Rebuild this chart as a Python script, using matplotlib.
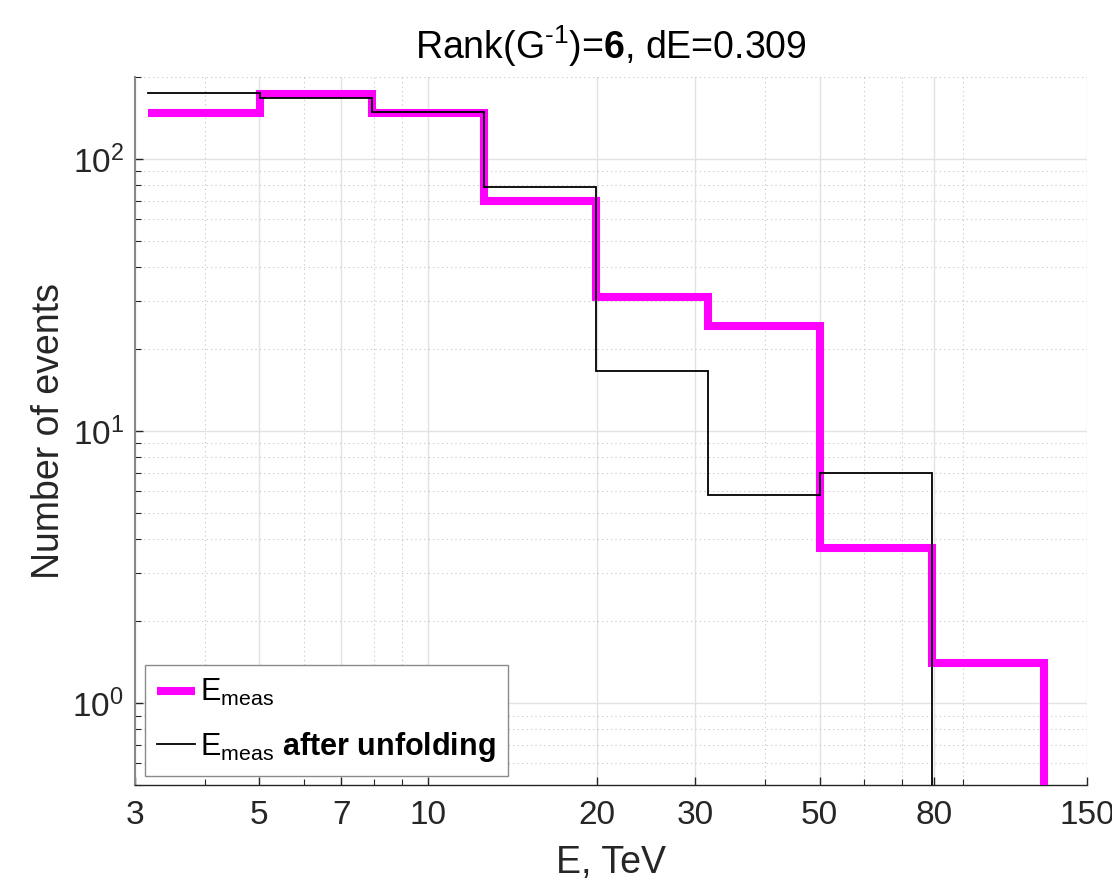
#!/usr/bin/env python3
"""Measured vs unfolded energy spectrum, log-log step plot."""

import matplotlib
matplotlib.use("Agg")
import matplotlib.pyplot as plt
import numpy as np
from matplotlib.ticker import FixedLocator, FixedFormatter, LogLocator, LogFormatterSciNotation, NullFormatter

# bin edges in TeV
edges = [3.162, 5.012, 7.943, 12.59, 19.95, 31.62, 50.12, 79.43, 125.9]
# counts per bin
meas_counts = [148, 173, 147, 70, 31, 24.4, 3.73, 1.40]
unfold_counts = [175, 168, 149, 79, 16.6, 5.8, 7.0, 0]

xticks = [3, 5, 7, 10, 20, 30, 50, 80, 150]
xtick_labels = ["3", "5", "7", "10", "20", "30", "50", "80", "150"]

plt.rcParams["font.family"] = ["Liberation Sans", "DejaVu Sans"]
plt.rcParams["mathtext.fontset"] = "custom"
plt.rcParams["mathtext.rm"] = "Liberation Sans"
plt.rcParams["mathtext.it"] = "Liberation Sans:italic"
plt.rcParams["mathtext.bf"] = "Liberation Sans:bold"
plt.rcParams["mathtext.sf"] = "Liberation Sans"


def main() -> None:
    fig = plt.figure(figsize=(11.12, 8.82), dpi=100)
    ax = fig.add_axes([0.1214, 0.110, 0.8561, 0.8027])

    ax.step(edges, np.append(meas_counts, 0), where="post", color="#ff00ff", lw=5.8,
            solid_joinstyle="miter", solid_capstyle="butt", label=r"E$_{\mathregular{meas}}$", zorder=3)
    ax.step(edges, np.append(unfold_counts, 0), where="post", color="black", lw=1.3,
            solid_joinstyle="miter",
            label=r"E$_{\mathregular{meas}}$ $\mathbf{after\ unfolding}$", zorder=4)

    ax.set_xscale("log")
    ax.set_yscale("log")
    ax.set_xlim(3, 150)
    ax.set_ylim(0.5, 200)

    ax.xaxis.set_major_locator(FixedLocator(xticks))
    ax.xaxis.set_major_formatter(FixedFormatter(xtick_labels))
    ax.xaxis.set_minor_locator(LogLocator(base=10, subs=np.arange(2, 10), numticks=20))
    ax.xaxis.set_minor_formatter(NullFormatter())
    ax.yaxis.set_major_locator(LogLocator(base=10, numticks=10))
    ax.yaxis.set_major_formatter(LogFormatterSciNotation())
    ax.yaxis.set_minor_locator(LogLocator(base=10, subs=np.arange(2, 10), numticks=20))
    ax.yaxis.set_minor_formatter(NullFormatter())

    ax.grid(True, which="major", color="#e2e2e2", lw=1.0, ls="-")
    ax.grid(True, which="minor", color="#c4c4c4", lw=0.8, ls=(0, (1, 3)))
    ax.set_axisbelow(True)

    for side in ("top", "right"):
        ax.spines[side].set_visible(False)
    ax.spines["left"].set_color("#8a8a8a")
    ax.spines["left"].set_linewidth(1.5)
    ax.spines["bottom"].set_color("#262626")
    ax.spines["bottom"].set_linewidth(1.0)

    ax.tick_params(axis="both", which="both", direction="in", colors="#262626", labelcolor="#262626")
    ax.tick_params(axis="both", which="major", length=6, width=1.0, labelsize=24)
    ax.tick_params(axis="both", which="minor", length=4, width=0.8)
    ax.tick_params(axis="x", which="major", pad=11)
    ax.tick_params(axis="y", which="major", pad=8)

    ax.set_xlabel("E, TeV", fontsize=27, color="#262626", labelpad=10)
    ax.set_ylabel("Number of events", fontsize=27, color="#262626", labelpad=4)
    ax.set_title(r"Rank(G$^{\text{-1}}$)=$\mathbf{6}$, dE=0.309", fontsize=27, pad=13)

    leg = ax.legend(loc="lower left", bbox_to_anchor=(10 / 952, 9 / 708), borderaxespad=0,
                    fontsize=22, handlelength=1.25, handletextpad=0.15, labelspacing=0.7,
                    borderpad=0.4, fancybox=False, framealpha=1.0, edgecolor="#8a8a8a")
    leg.get_frame().set_linewidth(1.0)

    fig.savefig("out.png", dpi=100)
    plt.close(fig)


if __name__ == "__main__":
    main()
